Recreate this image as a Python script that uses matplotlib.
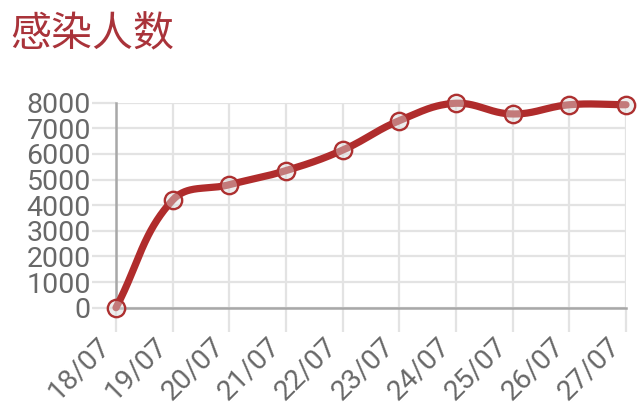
import numpy as np
import matplotlib
matplotlib.use("Agg")
import matplotlib.pyplot as plt

dates = ["18/07", "19/07", "20/07", "21/07", "22/07", "23/07", "24/07", "25/07", "26/07", "27/07"]
infected = [0, 4200, 4800, 5350, 6150, 7300, 7980, 7560, 7920, 7920]
yticks = [0, 1000, 2000, 3000, 4000, 5000, 6000, 7000, 8000]
title = "感染人数"

W, H = 639, 407
fig = plt.figure(figsize=(W / 100, H / 100), dpi=100)
left, right = 116 / W, 626 / W
bottom, top = 1 - 307.7 / H, 1 - 102.7 / H
ax = fig.add_axes([left, bottom, right - left, top - bottom])

x = np.arange(len(dates))
ax.set_xlim(0, len(dates) - 1)
ax.set_ylim(0, 8000)

grid_c = "#e3e3e3"
axis_c = "#a8a8a8"
ax.set_xticks(x)
ax.set_xticklabels(dates)
ax.set_yticks(yticks)
ax.set_yticklabels([str(v) for v in yticks])
ax.grid(True, color=grid_c, linewidth=1.6)
ax.set_axisbelow(True)
for s in ["top", "right"]:
    ax.spines[s].set_visible(False)
for s in ["left", "bottom"]:
    ax.spines[s].set_color(axis_c)
    ax.spines[s].set_linewidth(1.8)
ax.tick_params(axis="both", length=17, width=1.6, color=grid_c, pad=1.0,
               labelcolor="#686868", labelsize=20.5)
for lab in ax.get_xticklabels():
    lab.set_rotation(45)
    lab.set_ha("right")
    lab.set_va("top")
for lab in ax.get_xticklabels() + ax.get_yticklabels():
    lab.set_family(["Roboto", "DejaVu Sans"])

# Chart.js-like cubic bezier (tension 0.4) in pixel space
fig.canvas.draw()
pts = ax.transData.transform(np.column_stack([x, infected]))
bb = ax.bbox
t = 0.4
n = len(pts)
cps_prev, cps_next = [], []
for i in range(n):
    prev = pts[i - 1] if i > 0 else pts[i]
    cur = pts[i]
    nxt = pts[i + 1] if i < n - 1 else pts[i]
    d01 = np.hypot(*(cur - prev))
    d12 = np.hypot(*(nxt - cur))
    tot = d01 + d12
    s01 = d01 / tot if tot else 0
    s12 = d12 / tot if tot else 0
    cp = cur - t * s01 * (nxt - prev)
    cn = cur + t * s12 * (nxt - prev)
    cp = np.array([np.clip(cp[0], bb.x0, bb.x1), np.clip(cp[1], bb.y0, bb.y1)])
    cn = np.array([np.clip(cn[0], bb.x0, bb.x1), np.clip(cn[1], bb.y0, bb.y1)])
    cps_prev.append(cp)
    cps_next.append(cn)
curve = []
u = np.linspace(0, 1, 60)[:, None]
for i in range(n - 1):
    p0, p1, p2, p3 = pts[i], cps_next[i], cps_prev[i + 1], pts[i + 1]
    seg = (1 - u) ** 3 * p0 + 3 * (1 - u) ** 2 * u * p1 + 3 * (1 - u) * u ** 2 * p2 + u ** 3 * p3
    curve.append(seg)
curve = np.vstack(curve)
curve_data = ax.transData.inverted().transform(curve)

line_c = "#b02c2c"
ax.plot(curve_data[:, 0], curve_data[:, 1], color=line_c, linewidth=5.2,
        solid_capstyle="round", solid_joinstyle="round", clip_on=False, zorder=3)
ax.plot(x, infected, linestyle="none", marker="o", markersize=12.5,
        markerfacecolor=(0.86, 0.86, 0.86, 0.45), markeredgecolor="#ad3030",
        markeredgewidth=1.7, clip_on=False, zorder=4)

fig.text(10 / W, 1 - 14 / H, title, ha="left", va="top", fontsize=29.5,
         color="#a9333a", family=["Noto Sans CJK SC", "DejaVu Sans"])

fig.savefig("out.png", dpi=100, facecolor="white")
